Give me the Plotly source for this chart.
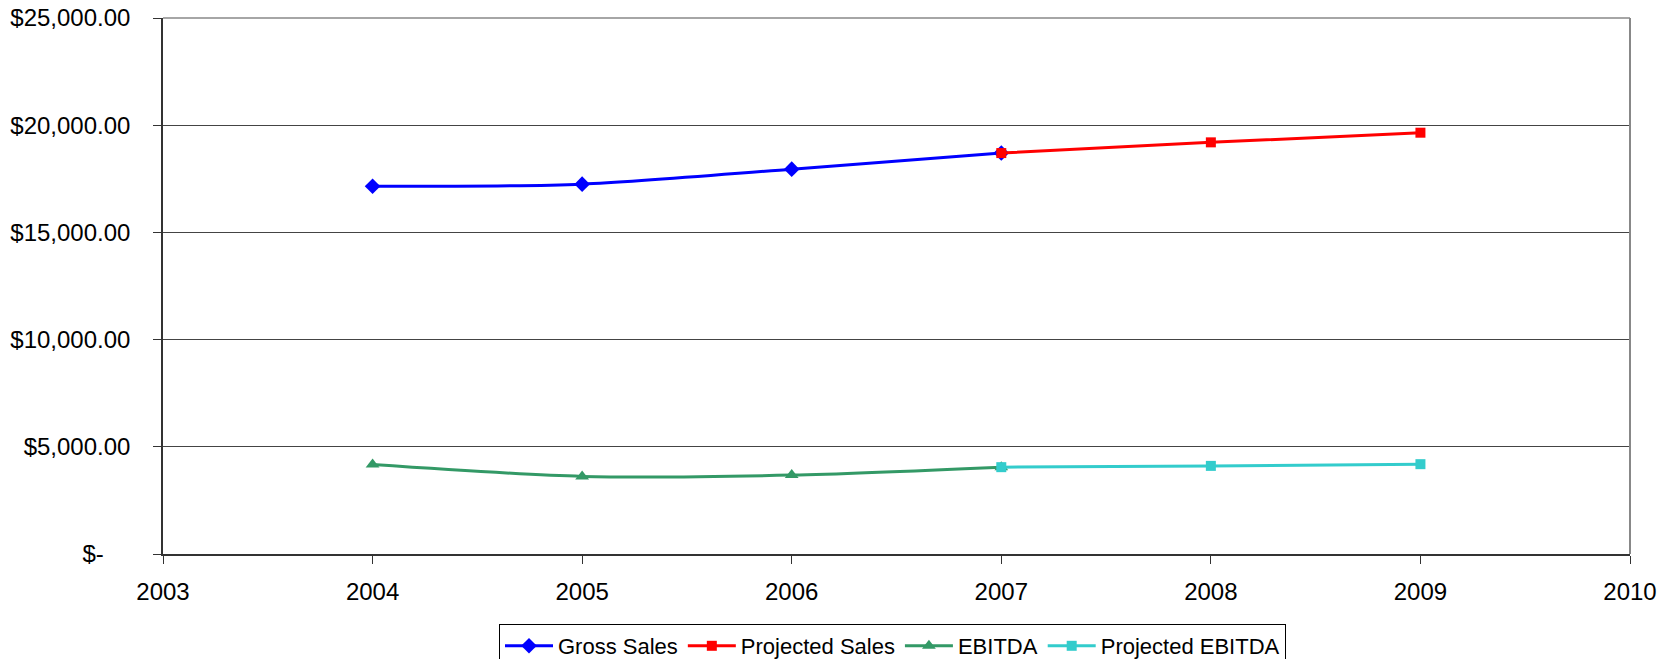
import plotly.graph_objects as go

years_actual = [2004, 2005, 2006, 2007]
years_proj = [2007, 2008, 2009]
gross_sales = [17150, 17250, 17950, 18700]
projected_sales = [18700, 19200, 19650]
ebitda = [4170, 3620, 3680, 4050]
projected_ebitda = [4050, 4110, 4190]

y_tickvals = [0, 5000, 10000, 15000, 20000, 25000]
y_ticktext = ["$-\u00a0\u00a0\u00a0\u00a0", "$5,000.00", "$10,000.00", "$15,000.00", "$20,000.00", "$25,000.00"]
x_tickvals = [2003, 2004, 2005, 2006, 2007, 2008, 2009, 2010]

FONT = "Liberation Sans, Arial, sans-serif"

fig = go.Figure()
fig.add_trace(go.Scatter(x=years_actual, y=gross_sales, name="Gross Sales", mode="lines+markers",
                         line=dict(color="#0000FF", width=3, shape="spline", smoothing=0.8),
                         marker=dict(symbol="diamond", size=12, color="#0000FF")))
fig.add_trace(go.Scatter(x=years_proj, y=projected_sales, name="Projected Sales", mode="lines+markers",
                         line=dict(color="#FF0000", width=3, shape="spline", smoothing=0.8),
                         marker=dict(symbol="square", size=10, color="#FF0000")))
fig.add_trace(go.Scatter(x=years_actual, y=ebitda, name="EBITDA", mode="lines+markers",
                         line=dict(color="#339966", width=3, shape="spline", smoothing=0.8),
                         marker=dict(symbol="triangle-up", size=12, color="#339966")))
fig.add_trace(go.Scatter(x=years_proj, y=projected_ebitda, name="Projected EBITDA", mode="lines+markers",
                         line=dict(color="#33CCCC", width=3, shape="spline", smoothing=0.8),
                         marker=dict(symbol="square", size=10, color="#33CCCC")))

fig.update_layout(
    width=1674, height=659,
    margin=dict(l=163, r=44, t=18, b=105),
    paper_bgcolor="white", plot_bgcolor="white",
    font=dict(family=FONT, size=24, color="black"),
    showlegend=True,
    legend=dict(orientation="h", xref="container", yref="container",
                x=499/1674, y=1-624/659, xanchor="left", yanchor="top",
                bordercolor="black", borderwidth=1, bgcolor="white",
                font=dict(family=FONT, size=22, color="black"),
                itemwidth=48, tracegroupgap=0),
    xaxis=dict(range=[2003, 2010], tickvals=x_tickvals, ticktext=[str(v) for v in x_tickvals],
               showgrid=False, zeroline=False, showline=True, linecolor="#333333", linewidth=1.5,
               ticks="outside", ticklen=8, tickcolor="#333333", tickwidth=1, automargin=False,
               ticklabelstandoff=7, tickfont=dict(size=24)),
    yaxis=dict(range=[0, 25000], tickvals=y_tickvals, ticktext=y_ticktext,
               showgrid=True, gridcolor="#444444", gridwidth=1, zeroline=False,
               showline=True, linecolor="#333333", linewidth=1.5, automargin=False,
               ticks="outside", ticklen=8, tickcolor="#333333", tickwidth=1,
               ticklabelstandoff=18, tickfont=dict(size=24)),
    shapes=[dict(type="line", xref="x domain", yref="y domain", x0=1, x1=1, y0=0, y1=1,
                 line=dict(color="#888888", width=2)),
            dict(type="line", xref="x domain", yref="y domain", x0=0, x1=1, y0=1, y1=1,
                 line=dict(color="#888888", width=1.5))],
)

fig.write_html("out.html")
